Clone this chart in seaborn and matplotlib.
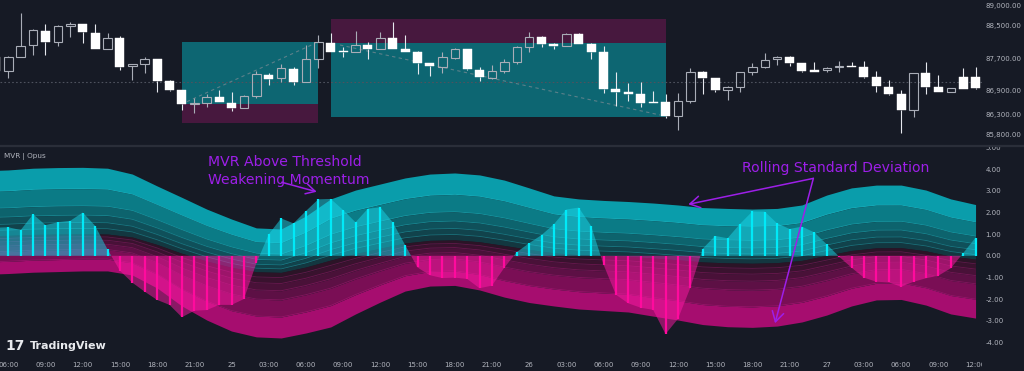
import numpy as np
import matplotlib
matplotlib.use("Agg")
import matplotlib.pyplot as plt
from matplotlib.patches import Rectangle
from matplotlib.transforms import Bbox, TransformedBbox
import seaborn as sns

# ---------------- data ----------------
candle_hour = list(range(-1, 79))
open_ = [87733, 87383, 87733, 88025, 88383, 88092, 88500, 88542, 88317, 87917,
         88192, 87508, 87550, 87667, 87133, 86900, 86558, 86567, 86717, 86583,
         86458, 86758, 87275, 87192, 87425, 87108, 87675, 88083, 87867, 87858,
         88025, 87917, 88192, 87925, 87842, 87567, 87483, 87708, 87917, 87400,
         87192, 87383, 87592, 87967, 88217, 88050, 88000, 88292, 88042, 87858,
         86917, 86842, 86792, 86592, 86608, 86250, 86625, 87342, 87192, 86900,
         86967, 87342, 87467, 87667, 87733, 87567, 87400, 87400, 87475, 87492,
         87467, 87233, 86983, 86792, 86400, 87317, 86983, 86842, 87217, 87217]
high = [87775, 87750, 88817, 88417, 88550, 88525, 88592, 88550, 88550, 88333,
        88250, 87550, 87733, 87667, 87150, 86900, 86708, 86792, 86900, 86858,
        86775, 87383, 87333, 87542, 87483, 88025, 88275, 88317, 87983, 88383,
        88108, 88342, 88592, 88275, 87883, 87567, 87858, 87958, 87917, 87467,
        87525, 87675, 88008, 88342, 88258, 88083, 88317, 88317, 88083, 88000,
        87358, 87083, 87108, 86883, 86800, 86817, 87442, 87375, 87192, 87000,
        87358, 87583, 87833, 87750, 87758, 87583, 87592, 87483, 87633, 87592,
        87633, 87375, 87150, 86900, 87333, 87608, 87275, 86958, 87442, 87483]
low = [87358, 87192, 87733, 87775, 87775, 88008, 88233, 88067, 87917, 87917,
       87400, 87150, 87333, 86858, 86883, 86400, 86333, 86467, 86592, 86383,
       86458, 86692, 87025, 87108, 87025, 87108, 87442, 87842, 87733, 87858,
       87667, 87917, 87917, 87842, 87300, 87250, 87333, 87675, 87400, 87133,
       87167, 87333, 87542, 87842, 87967, 87925, 88000, 88042, 87667, 86817,
       86508, 86633, 86483, 86567, 86192, 85900, 86567, 86800, 86842, 86650,
       86858, 87275, 87442, 87525, 87508, 87358, 87342, 87358, 87358, 87467,
       87192, 86858, 86775, 85833, 86233, 86800, 86842, 86842, 86925, 86925]
close = [87383, 87733, 88008, 88400, 88092, 88508, 88550, 88342, 87917, 88192,
         87483, 87550, 87667, 87133, 86900, 86550, 86575, 86717, 86592, 86458,
         86758, 87300, 87175, 87442, 87108, 87675, 88092, 87842, 87850, 88025,
         87917, 88192, 87917, 87842, 87567, 87508, 87717, 87917, 87417, 87217,
         87383, 87592, 87967, 88233, 88042, 88000, 88292, 88050, 87858, 86925,
         86842, 86792, 86567, 86567, 86250, 86625, 87342, 87208, 86900, 86967,
         87342, 87467, 87650, 87733, 87567, 87375, 87358, 87458, 87492, 87467,
         87233, 87000, 86800, 86400, 87317, 86983, 86842, 86942, 86925, 86942]

mvr_hour = list(range(-1, 79))
mvr = [1.30, 1.32, 1.19, 1.92, 1.42, 1.55, 1.62, 2.00, 1.39, 0.30,
       -0.69, -1.24, -1.66, -2.04, -2.27, -2.84, -2.54, -2.51, -2.27, -2.27,
       -2.00, -0.35, 0.99, 1.73, 1.50, 2.07, 2.61, 2.63, 2.12, 1.55,
       2.18, 2.24, 1.55, 0.50, -0.54, -0.90, -1.03, -1.01, -1.07, -1.50,
       -1.38, -0.55, 0.17, 0.58, 0.96, 1.46, 2.14, 2.23, 1.38, -0.41,
       -1.80, -2.20, -2.40, -2.50, -3.62, -2.92, -1.48, 0.33, 0.92, 0.81,
       1.47, 2.05, 2.04, 1.50, 1.24, 1.35, 1.08, 0.53, -0.04, -0.55,
       -1.01, -1.20, -1.23, -1.43, -1.20, -1.04, -0.92, -0.58, 0.12, 0.84]

band_hour = [-1] + list(range(0, 79, 2))
band_upper = [3.95, 3.97, 4.05, 4.08, 4.09, 4.05, 3.78, 3.23, 2.70, 2.16,
              1.70, 1.29, 1.24, 1.84, 2.63, 3.04, 3.32, 3.60, 3.78, 3.83,
              3.74, 3.50, 3.14, 2.77, 2.63, 2.56, 2.51, 2.44, 2.35, 2.23,
              2.19, 2.16, 2.19, 2.35, 2.81, 3.14, 3.27, 3.27, 3.04, 2.63, 2.37]
band_lower = [-0.84, -0.82, -0.76, -0.73, -0.70, -0.70, -0.89, -1.49, -2.32, -2.97,
              -3.48, -3.75, -3.80, -3.57, -3.29, -2.69, -2.14, -1.63, -1.40, -1.37,
              -1.58, -1.91, -2.16, -2.32, -2.46, -2.53, -2.60, -2.79, -2.97, -3.18,
              -3.28, -3.31, -3.25, -3.06, -2.74, -2.32, -2.04, -2.02, -2.28, -2.69, -2.88]
band_fraction = [1.0, 0.68, 0.42, 0.28, 0.17, 0.08]
band_center_weight = 0.6

time_ticks = list(range(0, 79, 3))
time_labels = ["06:00", "09:00", "12:00", "15:00", "18:00", "21:00", "25",
               "03:00", "06:00", "09:00", "12:00", "15:00", "18:00", "21:00", "26",
               "03:00", "06:00", "09:00", "12:00", "15:00", "18:00", "21:00", "27",
               "03:00", "06:00", "09:00", "12:00"]
price_ticks = [89000, 88500, 87700, 86900, 86300, 85800]
price_labels = ["89,000.00", "88,500.00", "87,700.00", "86,900.00", "86,300.00", "85,800.00"]
mvr_ticks = [5, 4, 3, 2, 1, 0, -1, -2, -3, -4]
mvr_labels = ["5.00", "4.00", "3.00", "2.00", "1.00", "0.00", "-1.00", "-2.00", "-3.00", "-4.00"]

ref_price = 87090
zone_start = [14, 26]
zone_end = [25, 53]
zone_teal_low = [86550, 86233]
zone_teal_high = [88092, 88083]
zone_purple_low = [86067, 88083]
zone_purple_high = [86550, 88667]
trend_start_h = [14.4, 26.75]
trend_start_p = [86608, 88025]
trend_end_h = [24.75, 52.55]
trend_end_p = [88067, 86275]

# ---------------- style ----------------
BG = "#161a25"
TXT = "#b2b5be"
PURPLE = "#9d1fe8"
sns.set_theme(style="dark", rc={"axes.facecolor": BG, "figure.facecolor": BG,
                                "axes.edgecolor": BG, "axes.grid": False})
plt.rcParams["font.family"] = ["DejaVu Sans"]

W, H = 1024, 371
fig = plt.figure(figsize=(W / 100, H / 100), dpi=100)
fig.patch.set_facecolor(BG)
PLOT_R = 982
ax_p = fig.add_axes([0, 1 - 145 / H, PLOT_R / W, 145 / H])
ax_o = fig.add_axes([0, 1 - 352 / H, PLOT_R / W, (352 - 146) / H])
XLIM = (-0.669, 78.52)

for ax in (ax_p, ax_o):
    ax.set_facecolor(BG)
    for s in ax.spines.values():
        s.set_visible(False)
    ax.set_xlim(*XLIM)
    ax.yaxis.tick_right()
    ax.tick_params(axis="y", length=0, pad=2.5, labelsize=5, labelcolor=TXT)

# ---------------- price pane ----------------
ax_p.set_ylim(85525, 89150)
for i in range(len(zone_start)):
    w = zone_end[i] - zone_start[i]
    ax_p.add_patch(Rectangle((zone_start[i], zone_teal_low[i]), w,
                             zone_teal_high[i] - zone_teal_low[i],
                             facecolor="#0d6672", edgecolor="none", zorder=1))
    ax_p.add_patch(Rectangle((zone_start[i], zone_purple_low[i]), w,
                             zone_purple_high[i] - zone_purple_low[i],
                             facecolor="#47183e", edgecolor="none", zorder=1))
    ax_p.plot([trend_start_h[i], trend_end_h[i]], [trend_start_p[i], trend_end_p[i]],
              color="#6f8790", lw=0.8, ls=(0, (3, 3)), alpha=0.8, zorder=2)
ax_p.axhline(ref_price, color="#4e525e", lw=0.8, ls=(0, (1.5, 2)), zorder=1.5)

x = np.array(candle_hour, dtype=float)
o = np.array(open_, dtype=float)
h = np.array(high, dtype=float)
l = np.array(low, dtype=float)
c = np.array(close, dtype=float)
top = np.maximum(o, c)
bot = np.minimum(o, c)
up = c > o
UP_COL = "#a9adb7"
DN_COL = "#ffffff"
for mask, col in ((up, UP_COL), (~up, "#e6e8ee")):
    ax_p.vlines(x[mask], top[mask], h[mask], color=col, lw=0.8, zorder=3)
    ax_p.vlines(x[mask], l[mask], bot[mask], color=col, lw=0.8, zorder=3)
body_h = np.maximum(top - bot, 14)
ax_p.bar(x[up], body_h[up], bottom=bot[up], width=0.68, facecolor="none",
         edgecolor=UP_COL, linewidth=0.8, zorder=4)
ax_p.bar(x[~up], body_h[~up], bottom=bot[~up], width=0.72, facecolor=DN_COL,
         edgecolor=DN_COL, linewidth=0.3, zorder=4)
ax_p.set_yticks(price_ticks)
ax_p.set_yticklabels(price_labels)
ax_p.tick_params(axis="x", bottom=False, labelbottom=False)

# ---------------- oscillator pane ----------------
ax_o.set_ylim(-4.449, 5.077)
bh = np.array(band_hour, dtype=float)
U = np.array(band_upper)
L = np.array(band_lower)
center = band_center_weight * (U + L) / 2
span_u = U - center
span_l = center - L
teal_cols = ["#0a9dab", "#0b7b86", "#0d636d", "#0f505a", "#11434c", "#133740"]
mag_cols = ["#a60d6f", "#7a0e55", "#5d1045", "#491138", "#39122e", "#2b1427"]
nf = len(band_fraction)
for i in range(nf):
    outer_u = center + band_fraction[i] * span_u
    outer_l = center - band_fraction[i] * span_l
    inner_u = center + band_fraction[i + 1] * span_u if i + 1 < nf else center
    inner_l = center - band_fraction[i + 1] * span_l if i + 1 < nf else center
    ax_o.fill_between(bh, inner_u, outer_u, color=teal_cols[i], lw=0, zorder=1)
    ax_o.fill_between(bh, outer_l, inner_l, color=mag_cols[i], lw=0, zorder=1)
for i in range(1, nf):
    sns.lineplot(x=bh, y=center + band_fraction[i] * span_u, ax=ax_o, color="#2cc3cf",
                 lw=0.6, alpha=0.35, zorder=2, legend=False)
    sns.lineplot(x=bh, y=center - band_fraction[i] * span_l, ax=ax_o, color="#d8259a",
                 lw=0.6, alpha=0.3, zorder=2, legend=False)

mx = np.array(mvr_hour, dtype=float)
mv = np.array(mvr)
ax_o.fill_between(mx, 0, mv, where=mv >= 0, interpolate=True, color="#1ad6e8",
                  alpha=0.5, lw=0, zorder=3)
ax_o.fill_between(mx, 0, mv, where=mv <= 0, interpolate=True, color="#ff19a6",
                  alpha=0.5, lw=0, zorder=3)
pos = mv >= 0
ax_o.vlines(mx[pos], 0, mv[pos], color="#00eaf8", lw=1.6, zorder=4)
ax_o.vlines(mx[~pos], 0, mv[~pos], color="#ff0a9e", lw=1.6, zorder=4)

ax_o.set_yticks(mvr_ticks)
ax_o.set_yticklabels(mvr_labels)
ax_o.set_xticks(time_ticks)
ax_o.set_xticklabels(time_labels)
ax_o.tick_params(axis="x", length=0, pad=7.5, labelsize=5, labelcolor=TXT)
ax_o.set_xlabel("")
ax_o.set_ylabel("")

clip_x = TransformedBbox(Bbox.from_extents(0, 0, PLOT_R / W, 1), fig.transFigure)
for t in ax_o.xaxis.get_major_ticks():
    t.label1.set_clip_on(True)
    t.label1.set_clip_box(clip_x)
clip_y = TransformedBbox(Bbox.from_extents(0, 0, 1, 1 - 146 / H), fig.transFigure)
for t in ax_o.yaxis.get_major_ticks():
    t.label2.set_clip_on(True)
    t.label2.set_clip_box(clip_y)

# annotations
ax_o.text(16.1, 4.34, "MVR Above Threshold", color=PURPLE, fontsize=10.1,
          ha="left", va="center", zorder=6)
ax_o.text(16.1, 3.50, "Weakening Momentum", color=PURPLE, fontsize=10.1,
          ha="left", va="center", zorder=6)
ax_o.annotate("", xy=(24.87, 2.96), xytext=(22.05, 3.40),
              arrowprops=dict(arrowstyle="->,head_length=0.55,head_width=0.3",
                              color=PURPLE, lw=1.1, shrinkA=0, shrinkB=0), zorder=6)
ax_o.text(59.17, 4.06, "Rolling Standard Deviation", color=PURPLE, fontsize=10.1,
          ha="left", va="center", zorder=6)
for tip in ((54.84, 2.38), (61.83, -3.12)):
    ax_o.annotate("", xy=tip, xytext=(64.92, 3.58),
                  arrowprops=dict(arrowstyle="->,head_length=0.6,head_width=0.35",
                                  color=PURPLE, lw=1.1, shrinkA=0, shrinkB=0), zorder=6)

fig.text(4 / W, 1 - 156 / H, "MVR | Opus", fontsize=5.2, color=TXT, va="center", ha="left")
fig.text(5 / W, 1 - 346 / H, "17", fontsize=10, fontweight="bold", color="#e8eaee",
         va="center", ha="left")
fig.text(30 / W, 1 - 346 / H, "TradingView", fontsize=8, fontweight="bold",
         color="#e8eaee", va="center", ha="left")

fig.add_artist(plt.Line2D([0, 1], [1 - 145.5 / H, 1 - 145.5 / H], transform=fig.transFigure,
                          color="#2a2e39", lw=1.6, zorder=10))

fig.savefig("out.png", dpi=100, facecolor=BG)
